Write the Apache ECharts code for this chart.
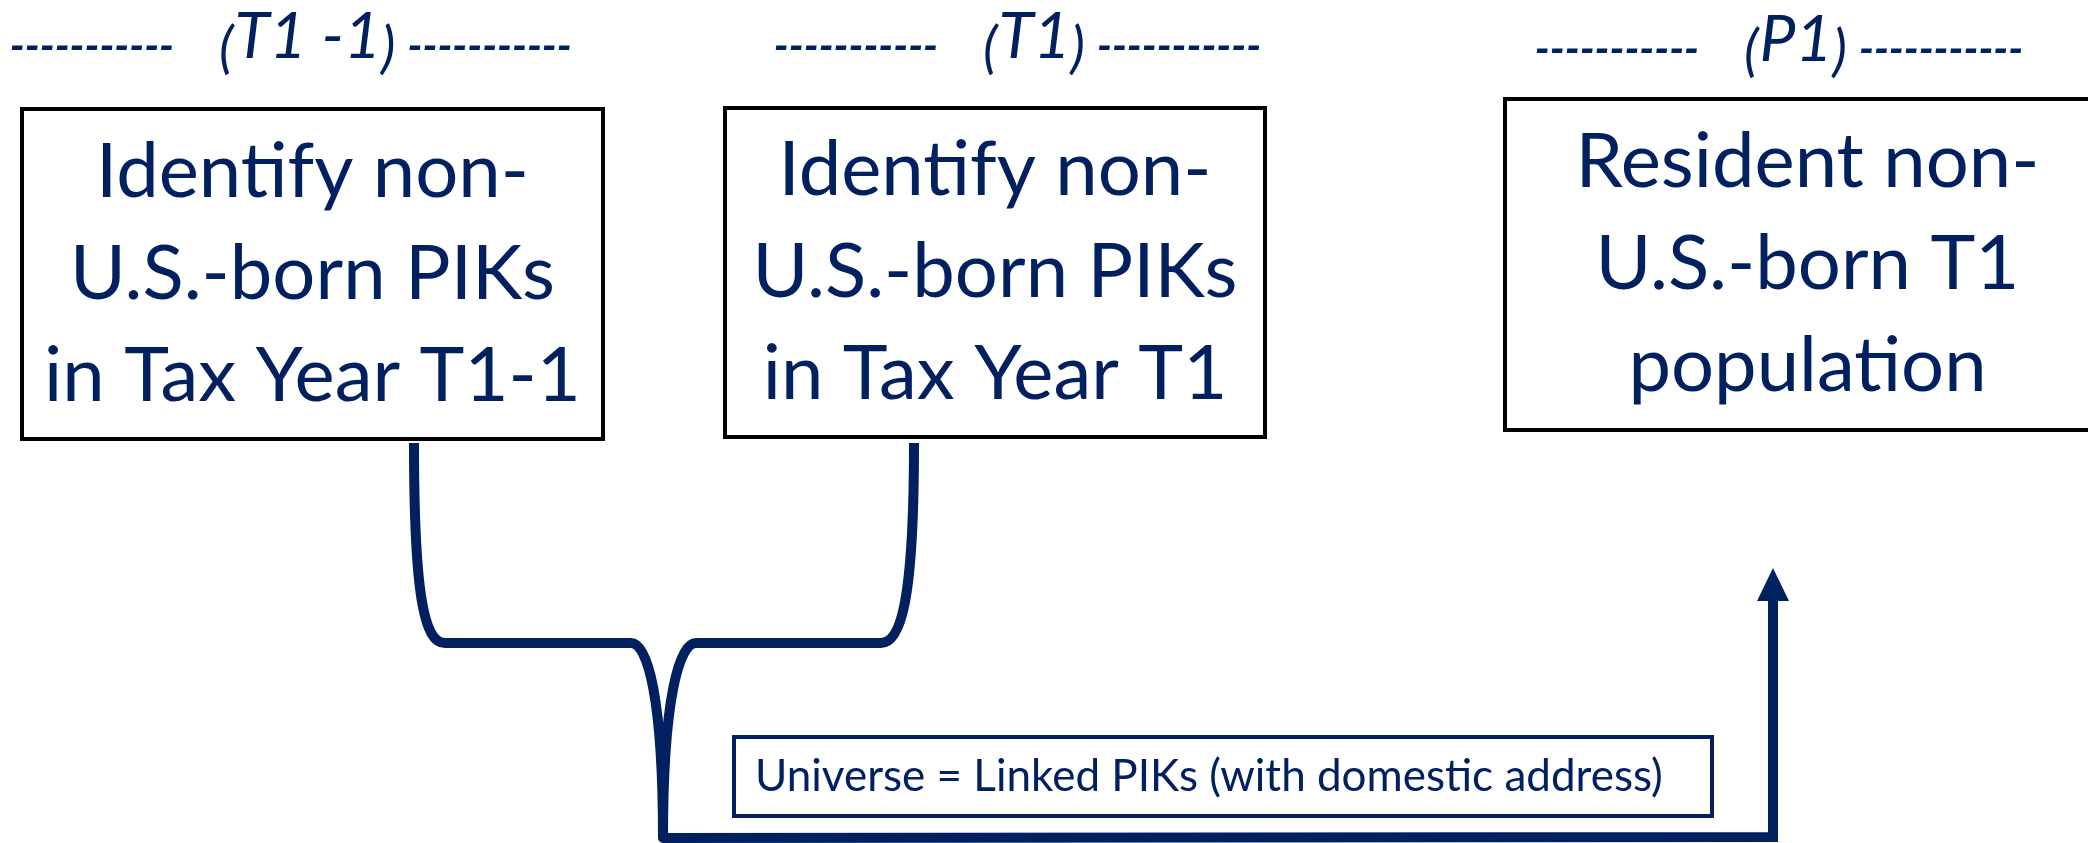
<!DOCTYPE html>
<html>
<head>
<meta charset="utf-8">
<script src="https://cdn.jsdelivr.net/npm/echarts@6/dist/echarts.min.js"></script>
<style>
  html, body { margin: 0; padding: 0; background: #fff; }
  #chart { width: 2088px; height: 843px; }
</style>
</head>
<body>
<div id="chart"></div>
<script>
const NAVY = '#002060';

// text content
const headerLabels = ['T1 -1', 'T1', 'P1'];
const headerDashes = '-----------';
const boxLabels = [
  'Identify non-\nU.S.-born PIKs\nin Tax Year T1-1',
  'Identify non-\nU.S.-born PIKs\nin Tax Year T1',
  'Resident non-\nU.S.-born T1\npopulation'
];
const universeLabel = 'Universe = Linked PIKs (with domestic address)';

// layout in diagram units (x 0..2088, y 0..843 from top)
const headerLeft = [219, 983, 1744];
const headerY = [47, 47, 50];
const boxLeft = [22, 725, 1505];
const boxTop = [109, 108, 99];
const boxRight = [603, 1265, 2110];
const boxBottom = [439, 437, 430];
const universeBox = [734, 737, 1712, 816];
const bracePath = [
  ['M', 414, 443],
  ['C', 414, 600, 425, 643, 445, 643],
  ['L', 631, 643],
  ['C', 648, 643, 663, 700, 663, 838],
  ['C', 663, 700, 679, 643, 696, 643],
  ['L', 881, 643],
  ['C', 901, 643, 914, 600, 914, 443]
];
const flowLine = [[663, 838], [1773, 837], [1773, 598]];
const arrowHead = [[1757, 601], [1773, 568], [1789, 601]];

const BOX_FONT = '76px Lato';
const LABEL_FONT = 'italic 64px Lato';
const PAREN_FONT = 'italic 56px Lato';
const DASH_FONT = 'italic bold 43px Lato';
const SMALL_FONT = '44px Lato';

const measureCtx = document.createElement('canvas').getContext('2d');
function textWidth(str, font) {
  measureCtx.font = font;
  return measureCtx.measureText(str).width;
}

const chart = echarts.init(document.getElementById('chart'));

function headerItem(params, api) {
  const i = params.dataIndex;
  const p = api.coord([api.value(0), api.value(1)]);
  const x0 = p[0], y = p[1];
  const wOpen = textWidth('(', PAREN_FONT);
  const wLabel = textWidth(headerLabels[i], LABEL_FONT);
  const wClose = textWidth(')', PAREN_FONT);
  const xLabel = x0 + wOpen + 1;
  const xClose = xLabel + wLabel;
  const txt = (text, x, yy, font, align) => ({
    type: 'text',
    style: { text, x, y: yy, font, fill: NAVY, align, verticalAlign: 'middle' }
  });
  return {
    type: 'group',
    children: [
      txt(headerDashes, x0 - 45, y, DASH_FONT, 'right'),
      txt('(', x0, y + 2, PAREN_FONT, 'left'),
      txt(headerLabels[i], xLabel, y - 10, LABEL_FONT, 'left'),
      txt(')', xClose, y + 2, PAREN_FONT, 'left'),
      txt(headerDashes, xClose + wClose + 12, y, DASH_FONT, 'left')
    ]
  };
}

function boxItem(params, api) {
  const i = params.dataIndex;
  const a = api.coord([api.value(0), api.value(1)]);
  const b = api.coord([api.value(2), api.value(3)]);
  return {
    type: 'group',
    children: [
      {
        type: 'rect',
        shape: { x: a[0], y: a[1], width: b[0] - a[0], height: b[1] - a[1] },
        style: { fill: '#fff', stroke: '#000', lineWidth: 4 }
      },
      {
        type: 'text',
        style: {
          text: boxLabels[i],
          x: (a[0] + b[0]) / 2,
          y: (a[1] + b[1]) / 2,
          font: BOX_FONT,
          lineHeight: 102,
          fill: NAVY,
          align: 'center',
          verticalAlign: 'middle'
        }
      }
    ]
  };
}

function connectorItem(params, api) {
  let d = '';
  bracePath.forEach(seg => {
    d += seg[0];
    for (let k = 1; k < seg.length; k += 2) {
      const p = api.coord([seg[k], seg[k + 1]]);
      d += ' ' + p[0] + ' ' + p[1];
    }
    d += ' ';
  });
  const line = flowLine.map(p => api.coord(p));
  const head = arrowHead.map(p => api.coord(p));
  return {
    type: 'group',
    children: [
      {
        type: 'path',
        shape: { pathData: d },
        style: { fill: null, stroke: NAVY, lineWidth: 10, lineJoin: 'round' }
      },
      {
        type: 'polyline',
        shape: { points: line },
        style: { fill: null, stroke: NAVY, lineWidth: 10 }
      },
      {
        type: 'polygon',
        shape: { points: head },
        style: { fill: NAVY }
      }
    ]
  };
}

function universeItem(params, api) {
  const a = api.coord([api.value(0), api.value(1)]);
  const b = api.coord([api.value(2), api.value(3)]);
  return {
    type: 'group',
    children: [
      {
        type: 'rect',
        shape: { x: a[0], y: a[1], width: b[0] - a[0], height: b[1] - a[1] },
        style: { fill: '#fff', stroke: NAVY, lineWidth: 4 }
      },
      {
        type: 'text',
        style: {
          text: universeLabel,
          x: a[0] + 21,
          y: (a[1] + b[1]) / 2,
          font: SMALL_FONT,
          fill: NAVY,
          align: 'left',
          verticalAlign: 'middle'
        }
      }
    ]
  };
}

chart.setOption({
  animation: false,
  backgroundColor: '#fff',
  grid: { left: 0, right: 0, top: 0, bottom: 0 },
  xAxis: { type: 'value', min: 0, max: 2088, show: false },
  yAxis: { type: 'value', min: 0, max: 843, inverse: true, show: false },
  series: [
    {
      type: 'custom',
      silent: true,
      renderItem: connectorItem,
      data: [[0, 0]]
    },
    {
      type: 'custom',
      silent: true,
      renderItem: universeItem,
      encode: { x: [0, 2], y: [1, 3] },
      data: [universeBox]
    },
    {
      type: 'custom',
      silent: true,
      renderItem: boxItem,
      encode: { x: [0, 2], y: [1, 3] },
      data: boxLabels.map((l, i) => [boxLeft[i], boxTop[i], boxRight[i], boxBottom[i]])
    },
    {
      type: 'custom',
      silent: true,
      renderItem: headerItem,
      data: headerLabels.map((l, i) => [headerLeft[i], headerY[i]])
    }
  ]
});
</script>
</body>
</html>
